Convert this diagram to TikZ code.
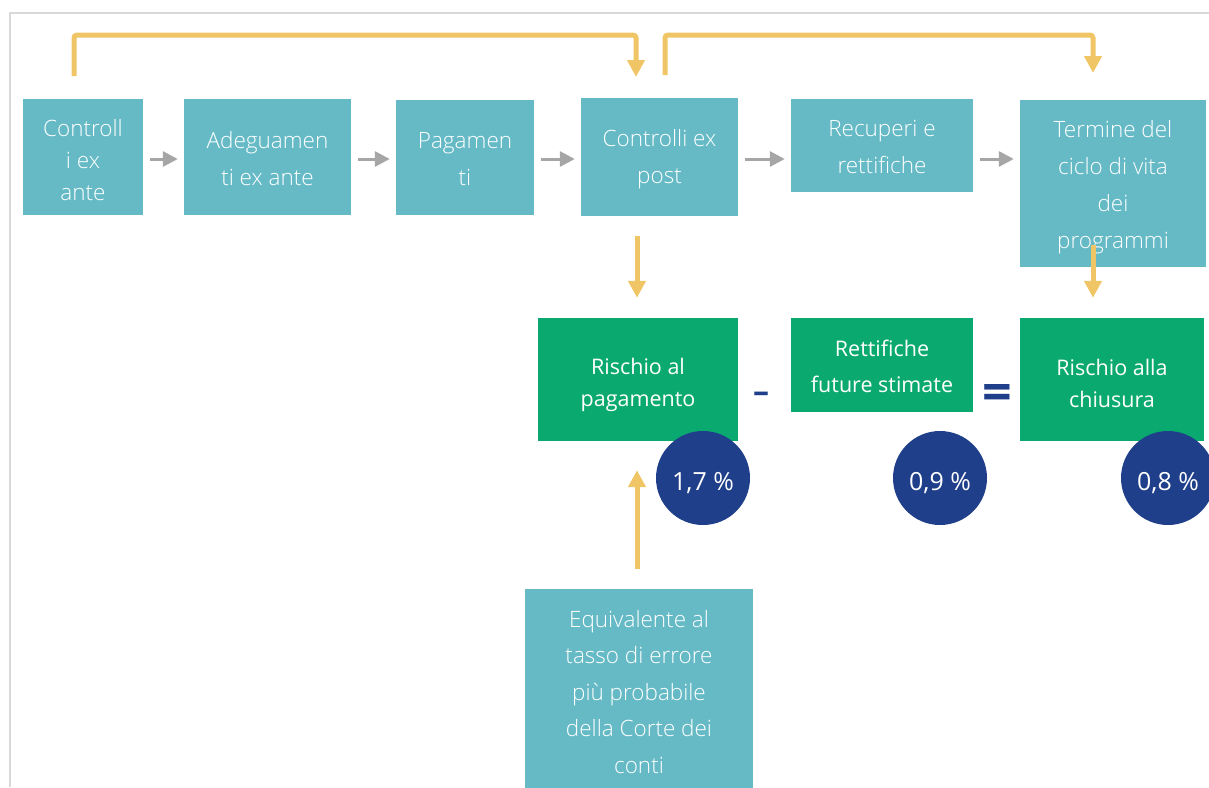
\documentclass[tikz,border=0pt]{standalone}
\usepackage{fontspec}
\setmainfont{Open Sans}
\newfontfamily\lightf{Open Sans Light}
\usetikzlibrary{arrows.meta}
\definecolor{tealc}{HTML}{65BAC6}
\definecolor{greenc}{HTML}{0AA96F}
\definecolor{navyc}{HTML}{1F3F8A}
\definecolor{yellowc}{HTML}{F0C566}
\definecolor{greyc}{HTML}{A6A6A6}
\definecolor{framec}{HTML}{D9D9D9}
\newcommand{\lineup}[1]{\rule{0pt}{#1}}
\begin{document}
\begin{tikzpicture}[x=1pt,y=-1pt,
  tbox/.style={rectangle, fill=tealc, inner sep=0pt, text=white, align=center,
    font=\lightf\fontsize{22.5}{37}\selectfont},
  gbox/.style={rectangle, fill=greenc, inner sep=0pt, text=white, align=center,
    font=\fontsize{21.5}{32}\selectfont},
  circ/.style={circle, fill=navyc, minimum size=94pt, inner sep=0pt, text=white,
    font=\fontsize{25}{25}\selectfont,
    execute at begin node={\rule[-0.28em]{0pt}{\dimexpr1.28em+6pt\relax}}},
  garrow/.style={draw=greyc, line width=3pt, -{Triangle[width=15pt,length=15pt]},
    shorten <=7pt, shorten >=6pt},
  yarrow/.style={draw=yellowc, line width=5pt, -{Triangle[width=17pt,length=17pt]},
    rounded corners=3pt},
  opsign/.style={text=navyc, inner sep=0pt}
]
\useasboundingbox (0,0) rectangle (1209,787);
% frame
\draw[framec, line width=2pt] (10,787) -- (10,13) -- (1209,13);

% process boxes
\node[tbox, minimum width=120pt, minimum height=116pt, font=\lightf\fontsize{22.5}{32}\selectfont] (c1) at (83,157) {\lineup{23pt}Controll\\i ex\\ante};
\node[tbox, minimum width=167pt, minimum height=116pt] (c2) at (267.5,157) {\lineup{20.5pt}Adeguamen\\ti ex ante};
\node[tbox, minimum width=138pt, minimum height=115pt] (c3) at (465,157.5) {\lineup{20pt}Pagamen\\ti};
\node[tbox, minimum width=157pt, minimum height=118pt] (c4) at (659.5,157) {\lineup{22pt}Controlli ex\\post};
\node[tbox, minimum width=182pt, minimum height=93pt] (c5) at (882,145.5) {\lineup{19.5pt}Recuperi e\\rettifiche};
\node[tbox, minimum width=186pt, minimum height=167pt] (c6) at (1113,183.5) {\lineup{24pt}Termine del\\ciclo di vita\\dei\\programmi};
\node[tbox, minimum width=228pt, minimum height=204pt, font=\lightf\fontsize{22.5}{36.5}\selectfont] (e) at (639,691) {\lineup{19pt}Equivalente al\\tasso di errore\\più probabile\\della Corte dei\\conti};

% result boxes
\node[gbox, minimum width=200pt, minimum height=123pt] (g1) at (638,379.5) {\lineup{27pt}Rischio al\\pagamento};
\node[gbox, minimum width=182pt, minimum height=94pt, font=\fontsize{21.5}{36}\selectfont] (g2) at (882,365) {\lineup{18.5pt}Rettifiche\\future stimate};
\node[gbox, minimum width=184pt, minimum height=123pt] (g3) at (1112,379.5) {\lineup{24pt}Rischio alla\\chiusura};

% circles
\node[circ] (p1) at (703,478) {1,7 \%};
\node[circ] (p2) at (940,478) {0,9 \%};
\node[circ] (p3) at (1168,478) {0,8 \%};

% operators
\node[opsign, font=\bfseries\fontsize{32}{32}\selectfont] (minus) at (761,397) {–};
\node[opsign, font=\bfseries\fontsize{52}{52}\selectfont] (equals) at (997.5,397.5) {=};

% grey arrows
\coordinate (row) at (0,159);
\draw[garrow] (c1.east|-row) -- (c2.west|-row);
\draw[garrow] (c2.east|-row) -- (c3.west|-row);
\draw[garrow] (c3.east|-row) -- (c4.west|-row);
\draw[garrow] (c4.east|-row) -- (c5.west|-row);
\draw[garrow] (c5.east|-row) -- (c6.west|-row);

% yellow arrows
\coordinate (y1a) at (74,76);
\coordinate (y1b) at (636,77);
\draw[yarrow] (y1a) -- ++(0,-41) -| (y1b);
\coordinate (y2a) at (665,75);
\coordinate (y2b) at (1093,73);
\draw[yarrow] (y2a) -- ++(0,-40) -| (y2b);
\draw[yarrow, shorten <=20pt, shorten >=20pt] ([xshift=-1pt]g1.north|-c4.south) -- ([xshift=-1pt]g1.north);
\coordinate (t1) at (1093,245);
\draw[yarrow, shorten >=20pt] (t1) -- (t1|-g3.north);
\draw[yarrow, shorten <=20pt, shorten >=29pt] ([xshift=-2pt]e.north) -- ([xshift=-2pt]e.north|-g1.south);
\end{tikzpicture}
\end{document}
